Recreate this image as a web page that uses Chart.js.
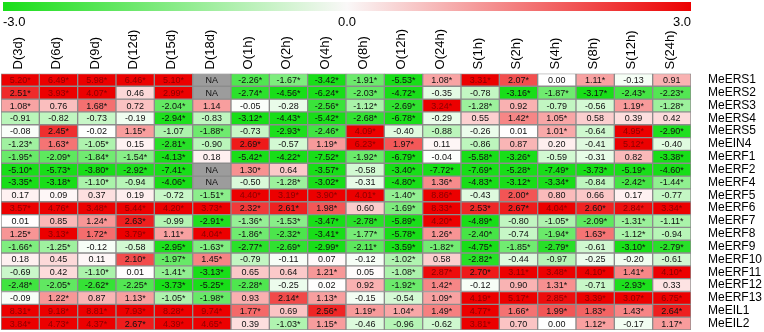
<!DOCTYPE html>
<html>
<head>
<meta charset="utf-8">
<script src="https://cdn.jsdelivr.net/npm/chart.js@4/dist/chart.umd.min.js"></script>
<style>
  html, body { margin: 0; padding: 0; background: #fff; }
  #wrap { width: 764px; height: 332px; position: relative; }
</style>
</head>
<body>
<div id="wrap"><canvas id="heat"></canvas></div>
<script>
// Column and row labels
const colLabels = ['D(3d)', 'D(6d)', 'D(9d)', 'D(12d)', 'D(15d)', 'D(18d)',
  'O(1h)', 'O(2h)', 'O(4h)', 'O(8h)', 'O(12h)', 'O(24h)',
  'S(1h)', 'S(2h)', 'S(4h)', 'S(8h)', 'S(12h)', 'S(24h)'];
const rowLabels = ['MeERS1', 'MeERS2', 'MeERS3', 'MeERS4', 'MeERS5', 'MeEIN4',
  'MeERF1', 'MeERF2', 'MeERF4', 'MeERF5', 'MeERF6', 'MeERF7', 'MeERF8', 'MeERF9',
  'MeERF10', 'MeERF11', 'MeERF12', 'MeERF13', 'MeEIL1', 'MeEIL2'];

// Cell values (log2 fold change, * = significant)
const rows = [
  ['5.20*', '6.49*', '5.98*', '6.46*', '5.10*', 'NA', '-2.26*', '-1.67*', '-3.42*', '-1.91*', '-5.53*', '1.08*', '3.31*', '2.07*', '0.00', '1.11*', '-0.13', '0.91'],
  ['2.51*', '3.93*', '4.07*', '0.46', '2.99*', 'NA', '-2.74*', '-4.56*', '-6.24*', '-2.03*', '-4.72*', '-0.35', '-0.78', '-3.16*', '-1.87*', '-3.17*', '-2.43*', '-2.23*'],
  ['1.08*', '0.76', '1.68*', '0.72', '-2.04*', '1.14', '-0.05', '-0.28', '-2.56*', '-1.12*', '-2.69*', '3.24*', '-1.28*', '0.92', '-0.79', '-0.56', '1.19*', '-1.28*'],
  ['-0.91', '-0.82', '-0.73', '-0.19', '-2.94*', '-0.83', '-3.12*', '-4.43*', '-5.42*', '-2.68*', '-6.78*', '-0.29', '0.55', '1.42*', '1.05*', '0.58', '0.39', '0.42'],
  ['-0.08', '2.45*', '-0.02', '1.15*', '-1.07', '-1.88*', '-0.73', '-2.93*', '-2.46*', '4.09*', '-0.40', '-0.88', '-0.26', '0.01', '1.01*', '-0.64', '4.95*', '-2.90*'],
  ['-1.23*', '1.63*', '-1.05*', '0.15', '-2.81*', '-0.90', '2.69*', '-0.57', '1.19*', '6.23*', '1.97*', '0.11', '-0.86', '0.87', '0.20', '-0.41', '5.12*', '-0.40'],
  ['-1.95*', '-2.09*', '-1.84*', '-1.54*', '-4.13*', '0.18', '-5.42*', '-4.22*', '-7.52*', '-1.92*', '-6.79*', '-0.04', '-5.58*', '-3.26*', '-0.59', '-0.31', '0.82', '-3.38*'],
  ['-5.10*', '-5.73*', '-3.80*', '-2.92*', '-7.41*', 'NA', '1.30*', '0.64', '-3.57*', '-0.58', '-3.40*', '-7.72*', '-7.69*', '-5.28*', '-7.49*', '-3.73*', '-5.19*', '-4.60*'],
  ['-3.35*', '-3.18*', '-1.10*', '-0.94', '-4.06*', 'NA', '-0.50', '-1.28*', '-3.02*', '-0.31', '-4.80*', '1.36*', '-4.83*', '-3.12*', '-3.34*', '-0.84', '-2.42*', '-1.44*'],
  ['0.17', '0.09', '0.37', '0.19', '-0.72', '-1.51*', '4.40*', '3.19*', '3.90*', '4.01*', '-1.40*', '8.86*', '-0.43', '2.00*', '0.80', '0.66', '0.17', '-0.77'],
  ['3.57*', '4.76*', '3.48*', '5.44*', '4.20*', '3.73*', '2.32*', '2.61*', '1.98*', '0.60', '-1.69*', '8.33*', '2.53*', '2.67*', '4.04*', '2.60*', '2.84*', '3.34*'],
  ['0.01', '0.85', '1.24*', '2.63*', '-0.99', '-2.91*', '-1.36*', '-1.53*', '-3.47*', '-2.78*', '-5.89*', '4.20*', '-4.89*', '-0.80', '-1.05*', '-2.09*', '-1.31*', '-1.11*'],
  ['1.25*', '3.13*', '1.72*', '3.79*', '1.11*', '4.04*', '-1.86*', '-2.32*', '-3.41*', '-1.77*', '-5.78*', '1.26*', '-2.40*', '-0.74', '-1.94*', '1.63*', '-1.12*', '-0.94'],
  ['-1.66*', '-1.25*', '-0.12', '-0.58', '-2.95*', '-1.63*', '-2.77*', '-2.69*', '-2.99*', '-2.11*', '-3.59*', '-1.82*', '-4.75*', '-1.85*', '-2.79*', '-0.61', '-3.10*', '-2.79*'],
  ['0.18', '0.45', '0.11', '2.10*', '-1.97*', '1.45*', '-0.79', '-0.11', '0.07', '-0.12', '-1.02*', '0.58', '-2.82*', '-0.44', '-0.97', '-0.25', '-0.20', '-0.61'],
  ['-0.69', '0.42', '-1.10*', '0.01', '-1.41*', '-3.13*', '0.65', '0.64', '1.21*', '0.05', '-1.08*', '2.87*', '2.70*', '3.11*', '3.48*', '4.10*', '1.41*', '4.10*'],
  ['-2.48*', '-2.05*', '-2.62*', '-2.25*', '-3.73*', '-5.25*', '-2.28*', '-0.25', '0.02', '0.92', '-1.92*', '1.42*', '-0.12', '0.90', '1.31*', '-0.71', '-2.93*', '0.33'],
  ['-0.09', '1.22*', '0.87', '1.13*', '-1.05*', '-1.98*', '0.93', '2.14*', '1.13*', '-0.15', '-0.54', '1.09*', '4.19*', '5.17*', '2.85*', '3.39*', '3.07*', '6.75*'],
  ['8.31*', '9.18*', '8.81*', '7.93*', '8.28*', '9.74*', '1.77*', '0.69', '2.56*', '1.19*', '1.04*', '1.49*', '4.77*', '1.66*', '1.99*', '1.83*', '1.43*', '2.64*'],
  ['3.84*', '4.73*', '4.37*', '2.67*', '4.39*', '4.65*', '0.39', '-1.03*', '1.15*', '-0.46', '-0.96', '-0.62', '3.81*', '0.70', '0.00', '1.12*', '-0.17', '1.17*']
];

// Colour scale limits
const scaleMin = -3.0;
const scaleMax = 3.0;
const GREEN = [24, 222, 24];
const RED = [236, 0, 0];
const FONT = '"Liberation Sans", Arial, sans-serif';

function mix(a, b, t) {
  return a.map((c, i) => Math.round(c + (b[i] - c) * t));
}

function cellColor(label) {
  if (label === 'NA') return '#9c9c9c';
  const v = parseFloat(label);
  const t = Math.max(-1, Math.min(1, v / scaleMax));
  const c = t < 0 ? mix([255, 255, 255], GREEN, -t) : mix([255, 255, 255], RED, t);
  return `rgb(${c[0]},${c[1]},${c[2]})`;
}

function textColor(label) {
  if (label === 'NA') return '#111';
  return parseFloat(label) >= 2.75 ? '#8a0000' : '#111';
}

// One stacked dataset per gene row
const datasets = rows.map((r, i) => ({
  label: rowLabels[i],
  data: colLabels.map(() => 1),
  cellText: r,
  backgroundColor: r.map(cellColor),
  borderColor: '#8c8c8c',
  borderWidth: 1,
  borderSkipped: false,
  barPercentage: 1,
  categoryPercentage: 1
}));

// Draw the numbers inside the cells
const cellLabels = {
  id: 'cellLabels',
  afterDatasetsDraw(chart) {
    const ctx = chart.ctx;
    ctx.save();
    ctx.font = '9px ' + FONT;
    ctx.textAlign = 'center';
    ctx.textBaseline = 'middle';
    chart.data.datasets.forEach((ds, di) => {
      chart.getDatasetMeta(di).data.forEach((bar, j) => {
        const txt = ds.cellText[j];
        ctx.fillStyle = textColor(txt);
        ctx.fillText(txt, bar.x, (bar.y + bar.base) / 2 + 0.5);
      });
    });
    ctx.restore();
  }
};

// Colour bar legend above the heatmap
const colorBar = {
  id: 'colorBar',
  afterDraw(chart) {
    const ctx = chart.ctx;
    const { left, right } = chart.chartArea;
    const x0 = left + 2, x1 = right;
    const grad = ctx.createLinearGradient(x0, 0, x1, 0);
    grad.addColorStop(0, `rgb(${GREEN.join(',')})`);
    grad.addColorStop(0.5, 'rgb(250,248,248)');
    grad.addColorStop(1, `rgb(${RED.join(',')})`);
    ctx.save();
    ctx.fillStyle = grad;
    ctx.fillRect(x0, 2, x1 - x0, 9);
    ctx.fillStyle = '#000';
    ctx.font = '13px ' + FONT;
    ctx.textBaseline = 'middle';
    ctx.textAlign = 'left';
    ctx.fillText(scaleMin.toFixed(1), x0, 22);
    ctx.textAlign = 'center';
    ctx.fillText('0.0', (x0 + x1) / 2, 22);
    ctx.textAlign = 'right';
    ctx.fillText(scaleMax.toFixed(1), x1, 22);
    ctx.restore();
  }
};

new Chart(document.getElementById('heat'), {
  type: 'bar',
  data: { labels: colLabels, datasets },
  options: {
    responsive: true,
    maintainAspectRatio: false,
    animation: false,
    layout: { padding: { left: 1, top: 25, bottom: 2, right: 0 } },
    plugins: {
      legend: { display: false },
      tooltip: { enabled: false }
    },
    scales: {
      x: {
        position: 'top',
        stacked: true,
        grid: { display: false, drawTicks: false },
        border: { display: false },
        ticks: {
          color: '#000',
          font: { family: FONT, size: 13 },
          minRotation: 90,
          maxRotation: 90,
          padding: 4,
          labelOffset: 14,
          autoSkip: false
        }
      },
      y: {
        stacked: true,
        display: false,
        min: 0,
        max: rowLabels.length,
        reverse: true
      },
      rowAxis: {
        type: 'category',
        labels: rowLabels,
        offset: true,
        position: 'right',
        grid: { display: false, drawTicks: false },
        border: { display: false },
        afterFit(scale) {
          scale.width = 73;
          scale.paddingTop = 0;
          scale.paddingBottom = 0;
        },
        ticks: {
          color: '#000',
          font: { family: FONT, size: 12 },
          padding: 17,
          autoSkip: false
        }
      }
    }
  },
  plugins: [cellLabels, colorBar]
});
</script>
</body>
</html>
